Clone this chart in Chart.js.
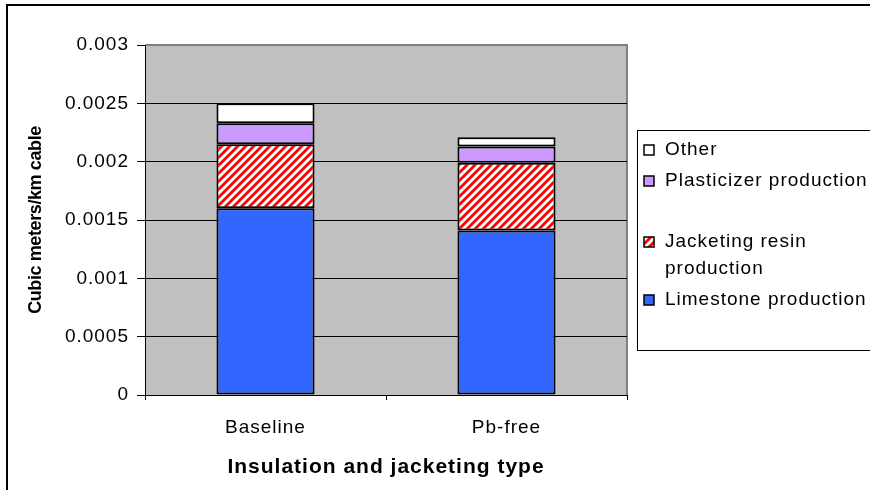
<!DOCTYPE html>
<html>
<head>
<meta charset="utf-8">
<script src="https://cdn.jsdelivr.net/npm/chart.js@4.4.1/dist/chart.umd.min.js"></script>
<style>
  html, body { margin: 0; padding: 0; background: #fff; }
  canvas { display: block; }
</style>
</head>
<body>
<canvas id="c" width="870" height="490"></canvas>
<script>
// ---- data ----
const categories = ['Baseline', 'Pb-free'];
const seriesNames = ['Limestone production', 'Jacketing resin production', 'Plasticizer production', 'Other'];
const limestone = [0.00160, 0.00141];
const jacketingResin = [0.00055, 0.00058];
const plasticizer = [0.00018, 0.00014];
const other = [0.00017, 0.00008];
const yTickValues = [0, 0.0005, 0.001, 0.0015, 0.002, 0.0025, 0.003];
const yAxisTitle = 'Cubic meters/km cable';
const xAxisTitle = 'Insulation and jacketing type';

// ---- hatch pattern ----
function makeHatch() {
  const p = document.createElement('canvas');
  p.width = 8; p.height = 8;
  const g = p.getContext('2d');
  g.fillStyle = '#ffffff';
  g.fillRect(0, 0, 8, 8);
  g.strokeStyle = '#ff0000';
  g.lineWidth = 2.8;
  g.beginPath();
  g.moveTo(-1, 9); g.lineTo(9, -1);
  g.moveTo(-5, 5); g.lineTo(5, -5);
  g.moveTo(3, 13); g.lineTo(13, 3);
  g.stroke();
  return g.createPattern(p, 'repeat');
}
const hatch = makeHatch();
const colors = ['#3366ff', hatch, '#cc99ff', '#ffffff'];
const seriesValues = [limestone, jacketingResin, plasticizer, other];

const SPACING = '1px';
const FONT = '"Liberation Sans", Arial, sans-serif';

const framePlugin = {
  id: 'frame',
  beforeLayout(chart) { chart.ctx.letterSpacing = SPACING; },
  beforeDraw(chart) {
    const ctx = chart.ctx;
    ctx.letterSpacing = SPACING;
    const a = chart.chartArea;
    ctx.save();
    ctx.fillStyle = '#ffffff';
    ctx.fillRect(0, 0, chart.width, chart.height);
    // outer chart border
    ctx.strokeStyle = '#000000';
    ctx.lineWidth = 2;
    ctx.strokeRect(7, 5, 1000, 1000);
    // plot area
    ctx.fillStyle = '#c0c0c0';
    ctx.fillRect(a.left, a.top, a.right - a.left, a.bottom - a.top);
    ctx.strokeStyle = '#808080';
    ctx.lineWidth = 2;
    ctx.beginPath();
    ctx.moveTo(a.left, a.top);
    ctx.lineTo(a.right, a.top);
    ctx.lineTo(a.right, a.bottom);
    ctx.stroke();
    ctx.restore();
  },
  afterDraw(chart) {
    const ctx = chart.ctx;
    ctx.save();
    ctx.letterSpacing = SPACING;
    // legend box
    ctx.strokeStyle = '#000000';
    ctx.lineWidth = 1;
    ctx.strokeRect(637.5, 130.5, 400, 220);
    ctx.font = '19px ' + FONT;
    ctx.textBaseline = 'middle';
    ctx.textAlign = 'left';
    ctx.fillStyle = '#000000';
    const rowY = [150, 181, 242, 300];
    const order = [3, 2, 1, 0];
    order.forEach((di, r) => {
      const ds = chart.data.datasets[di];
      const y = rowY[r];
      const words = ds.label.split(' ');
      const lines = [];
      let cur = '';
      words.forEach(w => {
        const t = cur ? cur + ' ' + w : w;
        if (ctx.measureText(t).width > 215 && cur) { lines.push(cur); cur = w; }
        else cur = t;
      });
      if (cur) lines.push(cur);
      ctx.fillStyle = ds.backgroundColor;
      ctx.fillRect(644, y - 5, 10, 10);
      ctx.strokeStyle = '#000000';
      ctx.lineWidth = 1.5;
      ctx.strokeRect(644, y - 5, 10, 10);
      ctx.fillStyle = '#000000';
      lines.forEach((ln, i) => ctx.fillText(ln, 665, y + i * 27));
    });
    ctx.restore();
  }
};

const datasets = seriesNames.map((name, i) => ({
  label: name,
  data: seriesValues[i],
  backgroundColor: colors[i],
  borderColor: '#000000',
  borderWidth: 2,
  borderSkipped: false,
  barPercentage: 0.407,
  categoryPercentage: 1.0
}));

new Chart(document.getElementById('c'), {
  type: 'bar',
  data: { labels: categories, datasets },
  plugins: [framePlugin],
  options: {
    responsive: false,
    animation: false,
    devicePixelRatio: 1,
    layout: { padding: { top: 45, right: 243, left: 0, bottom: 0 } },
    plugins: { legend: { display: false }, tooltip: { enabled: false } },
    scales: {
      x: {
        stacked: true,
        afterFit(s) { s.height = 95; },
        grid: {
          offset: true,
          drawOnChartArea: false,
          drawTicks: true,
          tickLength: 5,
          color: '#000000',
          tickColor: '#000000'
        },
        border: { display: true, color: '#000000', width: 1 },
        ticks: {
          color: '#000000',
          padding: 16,
          font: { family: FONT, size: 19 }
        },
        title: {
          display: true,
          text: xAxisTitle,
          color: '#000000',
          padding: { top: 0, bottom: 10 },
          font: { family: FONT, size: 21, weight: 'bold' }
        }
      },
      y: {
        stacked: true,
        min: 0,
        max: 0.003,
        afterFit(s) { s.width = 145; },
        afterBuildTicks(s) { s.ticks = yTickValues.map(v => ({ value: v })); },
        afterUpdate(s) {
          if (!s._patchedTitle) {
            const orig = s.drawTitle;
            s.drawTitle = function () {
              const c = this.ctx;
              const prev = c.letterSpacing;
              c.letterSpacing = '-0.4px';
              orig.call(this);
              c.letterSpacing = prev;
            };
            s._patchedTitle = true;
          }
        },
        grid: {
          color: (c) => (c.tick && c.tick.value >= 0.003 ? 'rgba(0,0,0,0)' : '#000000'),
          tickColor: '#000000',
          tickLength: 8,
          lineWidth: 1
        },
        border: { display: true, color: '#000000', width: 1 },
        ticks: {
          color: '#000000',
          padding: 8,
          font: { family: FONT, size: 19 },
          callback: (v) => String(Number(v.toFixed(4)))
        },
        title: {
          display: true,
          text: yAxisTitle,
          color: '#000000',
          padding: { top: 25, bottom: 0 },
          font: { family: FONT, size: 18, weight: 'bold' }
        }
      }
    }
  }
});
</script>
</body>
</html>
